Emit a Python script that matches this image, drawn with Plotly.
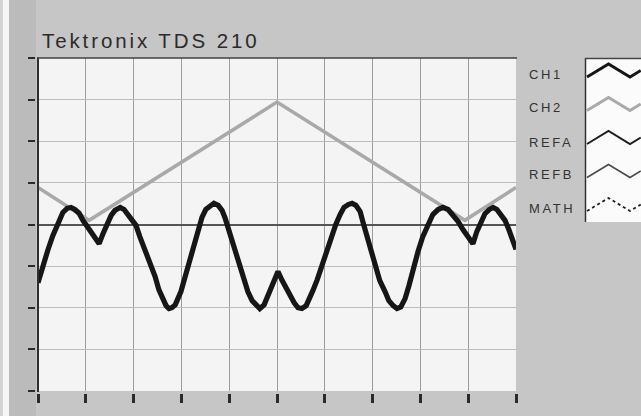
import plotly.graph_objects as go

W, H = 641, 416

# ---- data (divisions: x = time div, y = vertical div) ----
ch1_x = [0.00, 0.10, 0.21, 0.31, 0.42, 0.52, 0.61, 0.69, 0.77, 0.86, 0.94, 1.05, 1.15, 1.28,
         1.36, 1.44, 1.53, 1.61, 1.72, 1.80, 1.88, 1.97, 2.05, 2.13, 2.24, 2.34, 2.45, 2.53,
         2.62, 2.68, 2.74, 2.80, 2.87, 2.93, 2.99, 3.05, 3.12, 3.18, 3.26, 3.35, 3.43, 3.51,
         3.60, 3.68, 3.77, 3.85, 3.91, 3.97, 4.06, 4.14, 4.23, 4.31, 4.39, 4.48, 4.56, 4.64,
         4.73, 4.81, 4.87, 4.94, 5.02,
         5.10, 5.19, 5.27, 5.36, 5.44, 5.52, 5.61, 5.69, 5.75, 5.84, 5.94, 6.03, 6.13, 6.23,
         6.32, 6.40, 6.49, 6.57, 6.65, 6.74, 6.80, 6.88, 6.97, 7.05, 7.15, 7.26, 7.34, 7.43,
         7.51, 7.59, 7.68, 7.76, 7.85, 7.95, 8.05, 8.16, 8.26, 8.37, 8.47, 8.58, 8.68, 8.79,
         8.89, 9.00, 9.10,
         9.18, 9.27, 9.35, 9.44, 9.52, 9.60, 9.69, 9.77, 9.85, 9.94, 10.00]
ch1_y = [-1.40, -0.99, -0.60, -0.27, 0.05, 0.29, 0.39, 0.41, 0.36, 0.27, 0.10, -0.10, -0.27, -0.46,
         -0.22, 0.02, 0.22, 0.34, 0.41, 0.36, 0.24, 0.12, -0.02, -0.29, -0.60, -0.92, -1.25, -1.57,
         -1.81, -1.95, -2.02, -2.00, -1.93, -1.78, -1.61, -1.37, -1.08, -0.80, -0.43, -0.10, 0.17, 0.36,
         0.46, 0.51, 0.46, 0.34, 0.17, -0.05, -0.39, -0.72, -1.06, -1.37, -1.61, -1.83, -1.95, -2.02,
         -1.93, -1.71, -1.52, -1.35, -1.13,
         -1.33, -1.52, -1.71, -1.88, -2.00, -2.02, -1.95, -1.78, -1.59, -1.33, -0.99, -0.65, -0.29, 0.00,
         0.24, 0.41, 0.48, 0.51, 0.46, 0.31, 0.05, -0.29, -0.65, -1.01, -1.35, -1.61, -1.83, -1.95,
         -2.02, -1.98, -1.78, -1.47, -1.06, -0.65, -0.29, 0.00, 0.24, 0.36, 0.41, 0.36, 0.24, 0.07,
         -0.12, -0.29, -0.46,
         -0.17, 0.07, 0.26, 0.36, 0.41, 0.36, 0.24, 0.10, -0.12, -0.39, -0.60]

ch2_x = [0.00, 1.07, 5.00, 8.93, 10.00]
ch2_y = [0.89, 0.10, 2.94, 0.10, 0.89]

x_ticks = list(range(0, 11))
y_ticks = list(range(-4, 5))

title_text = "Tektronix TDS 210"
legend_names = ["CH1", "CH2", "REFA", "REFB", "MATH"]
legend_colors = ["#151515", "#a9a9a9", "#1e1e1e", "#4a4a4a", "#1e1e1e"]
legend_widths = [3, 3, 2, 1.5, 1.8]
legend_dash = ["solid", "solid", "solid", "solid", "dot"]
sample_x = [0, 1, 2, 2.5]
sample_y = [0, 1, 0, 0.5]


def px(v):
    return v / W


def py(v):
    return 1 - v / H


fig = go.Figure()

fig.add_trace(go.Scatter(x=ch2_x, y=ch2_y, mode="lines",
                         line=dict(color="#a9a9a9", width=3.5),
                         hoverinfo="skip", showlegend=False))
fig.add_trace(go.Scatter(x=ch1_x, y=ch1_y, mode="lines", xaxis="x3", yaxis="y3",
                         line=dict(color="#161616", width=5.2),
                         hoverinfo="skip", showlegend=False))

row0, row_step, amp = 19, 33.5, 13
for i, name in enumerate(legend_names):
    base = row0 + row_step * i
    fig.add_trace(go.Scatter(x=sample_x, y=[base - amp * v for v in sample_y],
                             xaxis="x2", yaxis="y2", mode="lines",
                             line=dict(color=legend_colors[i], width=legend_widths[i],
                                       dash=legend_dash[i]),
                             hoverinfo="skip", showlegend=False))

common = dict(showticklabels=False, fixedrange=True, automargin=False)

fig.update_layout(
    width=W, height=H,
    margin=dict(l=0, r=0, t=0, b=0),
    paper_bgcolor="#c6c6c6",
    plot_bgcolor="#f4f4f4",
    xaxis=dict(domain=[px(38), px(516)], range=[0, 10], tickvals=x_ticks,
               showgrid=True, gridcolor="#9c9c9c", gridwidth=1,
               zeroline=False, showline=False, ticks="", anchor="y", **common),
    yaxis=dict(domain=[py(391), py(58)], range=[-4, 4], tickvals=y_ticks,
               showgrid=True, gridcolor="#bcbcbc", gridwidth=1,
               zeroline=True, zerolinecolor="#555555", zerolinewidth=2,
               showline=False, ticks="", anchor="x", **common),
    xaxis3=dict(overlaying="x", anchor="free", position=py(392.5), side="bottom",
                range=[0, 10], tickvals=x_ticks, ticks="outside", ticklen=9,
                tickwidth=2.5, tickcolor="#2a2a2a", showgrid=False,
                zeroline=False, showline=False, **common),
    yaxis3=dict(overlaying="y", anchor="free", position=px(35), side="left",
                range=[-4, 4], tickvals=y_ticks, ticks="outside", ticklen=7,
                tickwidth=2, tickcolor="#2a2a2a", showgrid=False,
                zeroline=False, showline=False, **common),
    xaxis2=dict(domain=[px(585), 1.0], range=[-2 / 21.5, 54 / 21.5], anchor="y2",
                showgrid=False, zeroline=False, showline=False, ticks="", **common),
    yaxis2=dict(domain=[py(222), py(58)], range=[164, 0], anchor="x2",
                showgrid=False, zeroline=False, showline=False, ticks="", **common),
)

shapes = [
    dict(type="rect", xref="paper", yref="paper", x0=0, x1=px(3), y0=0, y1=1,
         fillcolor="#d4d4d4", line=dict(width=0), layer="below"),
    dict(type="rect", xref="paper", yref="paper", x0=px(3), x1=px(9), y0=0, y1=1,
         fillcolor="#f6f6f6", line=dict(width=0), layer="below"),
    dict(type="rect", xref="paper", yref="paper", x0=px(9), x1=px(36), y0=0, y1=1,
         fillcolor="#bbbbbb", line=dict(width=0), layer="below"),
    dict(type="rect", xref="paper", yref="paper", x0=px(585), x1=1, y0=py(222), y1=py(58),
         fillcolor="#fbfbfb", line=dict(width=0), layer="below"),
    dict(type="line", xref="paper", yref="paper", x0=px(38), x1=px(38),
         y0=py(392), y1=py(57.5), line=dict(color="#2e2e2e", width=2)),
    dict(type="line", xref="paper", yref="paper", x0=px(37), x1=px(517),
         y0=py(58), y1=py(58), line=dict(color="#404040", width=1.5)),
    dict(type="line", xref="paper", yref="paper", x0=px(585.5), x1=px(585.5),
         y0=py(222), y1=py(58), line=dict(color="#333333", width=1.5)),
    dict(type="line", xref="paper", yref="paper", x0=px(585), x1=1,
         y0=py(58.5), y1=py(58.5), line=dict(color="#444444", width=1.5)),
]
fig.update_layout(shapes=shapes)

ann = [dict(text='<span style="letter-spacing:2.9px">' + title_text + '</span>',
            x=px(40), y=py(40), xref="paper", yref="paper",
            xanchor="left", yanchor="middle", showarrow=False,
            font=dict(family="Liberation Sans, Arial, sans-serif", size=20.5, color="#2b2b2b"))]
label_y = [74, 108, 142, 175, 208]
for name, ly in zip(legend_names, label_y):
    ann.append(dict(text='<span style="letter-spacing:2.6px">' + name + '</span>',
                    x=px(527), y=py(ly), xref="paper", yref="paper",
                    xanchor="left", yanchor="middle", showarrow=False,
                    font=dict(family="Liberation Sans, Arial, sans-serif", size=13,
                              color="#333333")))
fig.update_layout(annotations=ann)

fig.write_html("out.html", config={"displayModeBar": False},
               post_script="document.body.style.margin='0';document.body.style.padding='0';")
